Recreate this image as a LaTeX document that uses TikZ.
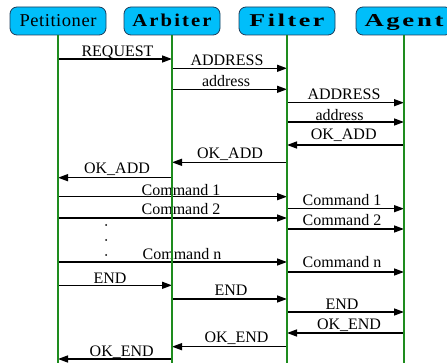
\documentclass[tikz,border=0pt]{standalone}
\usepackage{fontspec}
\setmainfont{Liberation Serif}
\newfontfamily\headfont[LetterSpace=10]{Liberation Serif}
\newfontfamily\petfont[LetterSpace=3]{Liberation Serif}
\usetikzlibrary{arrows.meta}
\definecolor{headfill}{RGB}{0,190,250}
\definecolor{headline}{RGB}{30,60,90}
\definecolor{lifegreen}{RGB}{30,140,30}

% message: name, from, to, y, text, label x, label baseline
\newcommand\sendmsg[7]{%
  \draw[msg] (#2 |- 0,#4) -- (#3 |- 0,#4);
  \node[lbl] (#1) at (#6,#7) {#5};}

\begin{document}
\begin{tikzpicture}[x=1pt,y=-1pt,
  head/.style={draw=headline, line width=0.8pt, fill=headfill,
    rounded corners=7pt, minimum width=96pt, minimum height=28pt,
    inner sep=0pt, text height=12pt, text depth=0pt},
  life/.style={draw=lifegreen, line width=1.6pt},
  msg/.style={line width=1.4pt, -{Triangle[length=10pt,width=7pt]}},
  lbl/.style={anchor=base, inner sep=0pt, font=\fontsize{16}{18}\selectfont}]
\useasboundingbox (0,0) rectangle (447,363);
\clip (0,0) rectangle (447,363);

% participants
\node[head] (P) at (58,21)  {\resizebox{77pt}{12pt}{\fontsize{17}{20}\petfont Petitioner}};
\node[head] (A) at (172,21) {\resizebox{79pt}{12.5pt}{\fontsize{17}{20}\headfont\bfseries Arbiter}};
\node[head] (F) at (287,21) {\resizebox{75pt}{12.5pt}{\fontsize{17}{20}\headfont\bfseries Filter}};
\node[head] (G) at (404,21) {\resizebox{79pt}{12pt}{\fontsize{17}{20}\headfont\bfseries Agent}};

% address phase
\sendmsg{m1}{P}{A}{59}{REQUEST}{117.5}{56.5}
\sendmsg{m2}{A}{F}{68.3}{ADDRESS}{227}{65.5}
\sendmsg{m3}{A}{F}{89.3}{address}{226}{87}
\sendmsg{m4}{F}{G}{102.7}{ADDRESS}{344}{100}
\sendmsg{m5}{F}{G}{122}{address}{339.5}{120.5}
\sendmsg{m6}{G}{F}{145}{OK\_ADD}{343.7}{140}
\sendmsg{m7}{F}{A}{162.3}{OK\_ADD}{230}{158.3}
\sendmsg{m8}{A}{P}{177.7}{OK\_ADD}{117}{173.3}

% command phase
\sendmsg{m9}{P}{F}{196.7}{Command 1}{181}{195.5}
\sendmsg{m10}{F}{G}{208.7}{Command 1}{342}{206}
\sendmsg{m11}{P}{F}{218}{Command 2}{181}{215}
\sendmsg{m12}{F}{G}{229}{Command 2}{342}{226}
\sendmsg{m13}{P}{F}{262}{Command n}{182}{260}
\sendmsg{m14}{F}{G}{272}{Command n}{342}{267.3}
\fill (106,225) circle (1pt) (106,240) circle (1pt) (106,255) circle (1pt);

% end phase
\sendmsg{m15}{P}{A}{285.3}{END}{110}{283.3}
\sendmsg{m16}{A}{F}{299}{END}{231}{295.7}
\sendmsg{m17}{F}{G}{312}{END}{342}{309.5}
\sendmsg{m18}{G}{F}{333}{OK\_END}{349}{329.3}
\sendmsg{m19}{F}{A}{346.7}{OK\_END}{236.5}{342.7}
\sendmsg{m20}{A}{P}{359}{OK\_END}{121.7}{356}

% lifelines
\foreach \n in {P,A,F,G}
  \draw[life] (\n.south) -- (\n.south |- 0,363);
\end{tikzpicture}
\end{document}
